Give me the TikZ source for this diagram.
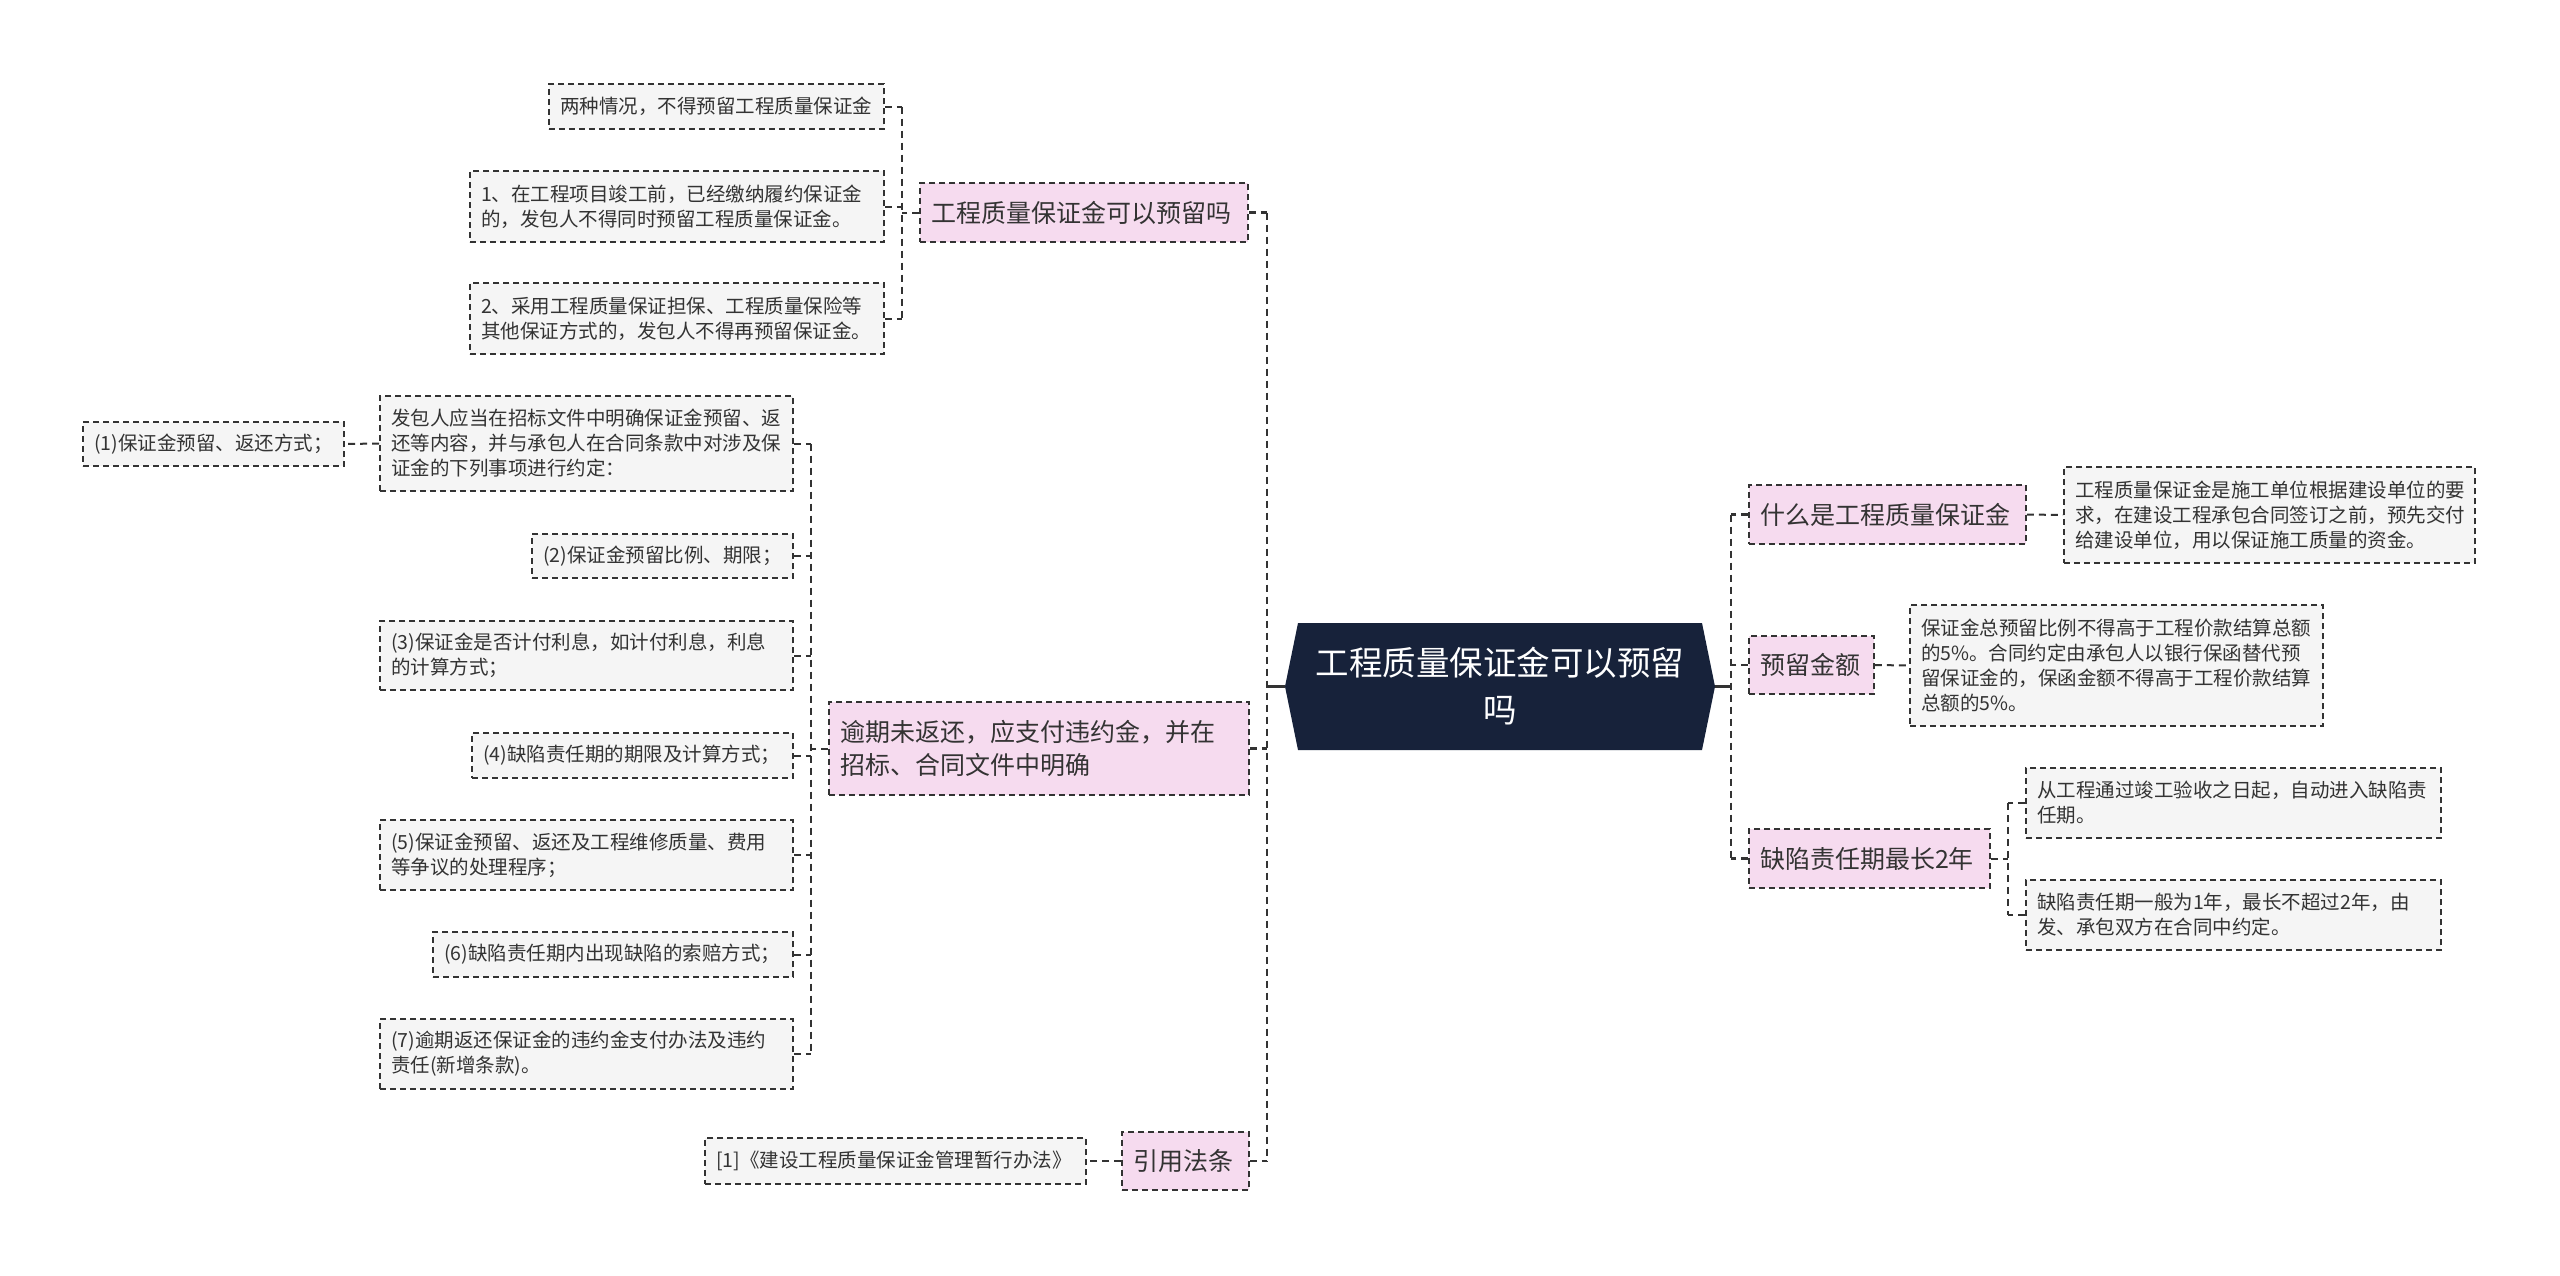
\documentclass[tikz,border=0pt]{standalone}
\usepackage{fontspec}
\newfontfamily\cjk{Noto Sans CJK SC}
\definecolor{pinkf}{HTML}{F6DBEF}
\definecolor{grayf}{HTML}{F5F5F5}
\definecolor{linec}{HTML}{333333}
\definecolor{navy}{HTML}{17223A}
\newcommand{\gnode}[7]{%
  \pgfmathsetmacro{\myW}{#5-#3}\pgfmathsetmacro{\myH}{#6-#4}%
  \pgfmathsetmacro{\myT}{#5-#3-22}%
  \node[#1, minimum width=\myW pt, minimum height=\myH pt, text width=\myT pt] (#2) at ({(#3+#5)/2},{(#4+#6)/2}) {#7};}
\tikzset{
  gbox/.style={draw=linec, fill=grayf, line width=1.6pt, dash pattern=on 6pt off 4pt, inner xsep=11pt, inner ysep=0pt, align=left, text=linec, font=\cjk\fontsize{19.5}{25}\selectfont},
  pbox/.style={draw=linec, fill=pinkf, line width=1.6pt, dash pattern=on 6pt off 4pt, inner xsep=11pt, inner ysep=0pt, align=left, text=linec, font=\cjk\fontsize{25}{33}\selectfont},
  conn/.style={draw=linec, line width=2.5pt, dash pattern=on 7pt off 5pt},
  subconn/.style={draw=linec, line width=2pt, dash pattern=on 7pt off 5pt},
  solidc/.style={draw=linec, line width=2.5pt}
}
\begin{document}
\begin{tikzpicture}[x=1pt,y=-1pt]
\useasboundingbox (0,0) rectangle (2560,1275);
\fill[white] (0,0) rectangle (2560,1275);

% center
\node[minimum width=430pt, minimum height=127pt, inner sep=0pt, align=center, text=white,
  font=\cjk\fontsize{33.5}{47}\selectfont,
  path picture={\fill[navy] ([xshift=13pt]path picture bounding box.north west) -- ([xshift=-13pt]path picture bounding box.north east) -- (path picture bounding box.east) -- ([xshift=-13pt]path picture bounding box.south east) -- ([xshift=13pt]path picture bounding box.south west) -- (path picture bounding box.west) -- cycle;}]
  (c) at (1500,686.5) {工程质量保证金可以预留\\吗};

% left branch 1
\gnode{pbox}{B1}{920}{183}{1248}{242}{工程质量保证金可以预留吗}
\gnode{gbox}{a1}{549}{84}{884}{129}{两种情况，不得预留工程质量保证金}
\gnode{gbox}{a2}{470}{171}{884}{242}{1、在工程项目竣工前，已经缴纳履约保证金\\的，发包人不得同时预留工程质量保证金。}
\gnode{gbox}{a3}{470}{283}{884}{354}{2、采用工程质量保证担保、工程质量保险等\\其他保证方式的，发包人不得再预留保证金。}

% left branch 2
\gnode{pbox}{B2}{829}{702}{1249}{795}{逾期未返还，应支付违约金，并在\\招标、合同文件中明确}
\gnode{gbox}{b0}{380}{396}{793}{491}{发包人应当在招标文件中明确保证金预留、返\\还等内容，并与承包人在合同条款中对涉及保\\证金的下列事项进行约定：}
\gnode{gbox}{b1}{83}{422}{344}{466}{(1)保证金预留、返还方式；}
\gnode{gbox}{b2}{532}{534}{793}{578}{(2)保证金预留比例、期限；}
\gnode{gbox}{b3}{380}{621}{793}{690}{(3)保证金是否计付利息，如计付利息，利息\\的计算方式；}
\gnode{gbox}{b4}{472}{733}{793}{778}{(4)缺陷责任期的期限及计算方式；}
\gnode{gbox}{b5}{380}{820}{793}{890}{(5)保证金预留、返还及工程维修质量、费用\\等争议的处理程序；}
\gnode{gbox}{b6}{433}{932}{793}{977}{(6)缺陷责任期内出现缺陷的索赔方式；}
\gnode{gbox}{b7}{380}{1019}{793}{1089}{(7)逾期返还保证金的违约金支付办法及违约\\责任(新增条款)。}

% left branch 3
\gnode{pbox}{B3}{1122}{1132}{1249}{1190}{引用法条}
\gnode{gbox}{ref}{705}{1138}{1086}{1184}{[1]《建设工程质量保证金管理暂行办法》}

% right
\gnode{pbox}{R1}{1749}{485}{2026}{544}{什么是工程质量保证金}
\gnode{gbox}{R1c}{2064}{467}{2475}{563}{工程质量保证金是施工单位根据建设单位的要\\求，在建设工程承包合同签订之前，预先交付\\给建设单位，用以保证施工质量的资金。}
\gnode{pbox}{R2}{1749}{636}{1874}{694}{预留金额}
\gnode{gbox}{R2c}{1910}{605}{2323}{726}{保证金总预留比例不得高于工程价款结算总额\\的5\%。合同约定由承包人以银行保函替代预\\留保证金的，保函金额不得高于工程价款结算\\总额的5\%。}
\gnode{pbox}{R3}{1749}{829}{1990}{888}{缺陷责任期最长2年}
\gnode{gbox}{c1}{2026}{768}{2441}{838}{从工程通过竣工验收之日起，自动进入缺陷责\\任期。}
\gnode{gbox}{c2}{2026}{880}{2441}{950}{缺陷责任期一般为1年，最长不超过2年，由\\发、承包双方在合同中约定。}

% trunk coordinates
\coordinate (L) at (1267,0);
\coordinate (R) at (1731,0);
\coordinate (V1) at (902,0);
\coordinate (V2) at (811,0);
\coordinate (V3) at (2008,0);

% center to trunks
\draw[solidc] (c.west) -- (c.west -| L);
\draw[solidc] (c.east) -- (c.east -| R);

% left trunk
\draw[conn] (B1.east -| L) -- (B3.east -| L);
\draw[conn] (B1.east) -- (B1.east -| L);
\draw[conn] (B2.east) -- (B2.east -| L);
\draw[conn] (B3.east) -- (B3.east -| L);

% right trunk
\draw[conn] (R1.west -| R) -- (R3.west -| R);
\draw[conn] (R1.west) -- (R1.west -| R);
\draw[conn] (R2.west) -- (R2.west -| R);
\draw[conn] (R3.west) -- (R3.west -| R);

% group 1
\draw[subconn] (a1.east -| V1) -- (a3.east -| V1);
\draw[subconn] (a1.east) -- (a1.east -| V1);
\draw[subconn] (a2.east) -- (a2.east -| V1);
\draw[subconn] (a3.east) -- (a3.east -| V1);
\draw[subconn] (B1.west) -- (B1.west -| V1);

% group 2
\draw[subconn] (b0.east -| V2) -- (b7.east -| V2);
\foreach \n in {b0,b2,b3,b4,b5,b6,b7} {\draw[subconn] (\n.east) -- (\n.east -| V2);}
\draw[subconn] (B2.west) -- (B2.west -| V2);
\draw[subconn] (b0.west) -- (b1.east);

% group 3
\draw[subconn] (B3.west) -- (ref.east);

% right children
\draw[subconn] (R1.east) -- (R1c.west);
\draw[subconn] (R2.east) -- (R2c.west);
\draw[subconn] (c1.west -| V3) -- (c2.west -| V3);
\draw[subconn] (c1.west) -- (c1.west -| V3);
\draw[subconn] (c2.west) -- (c2.west -| V3);
\draw[subconn] (R3.east) -- (R3.east -| V3);
\end{tikzpicture}
\end{document}
